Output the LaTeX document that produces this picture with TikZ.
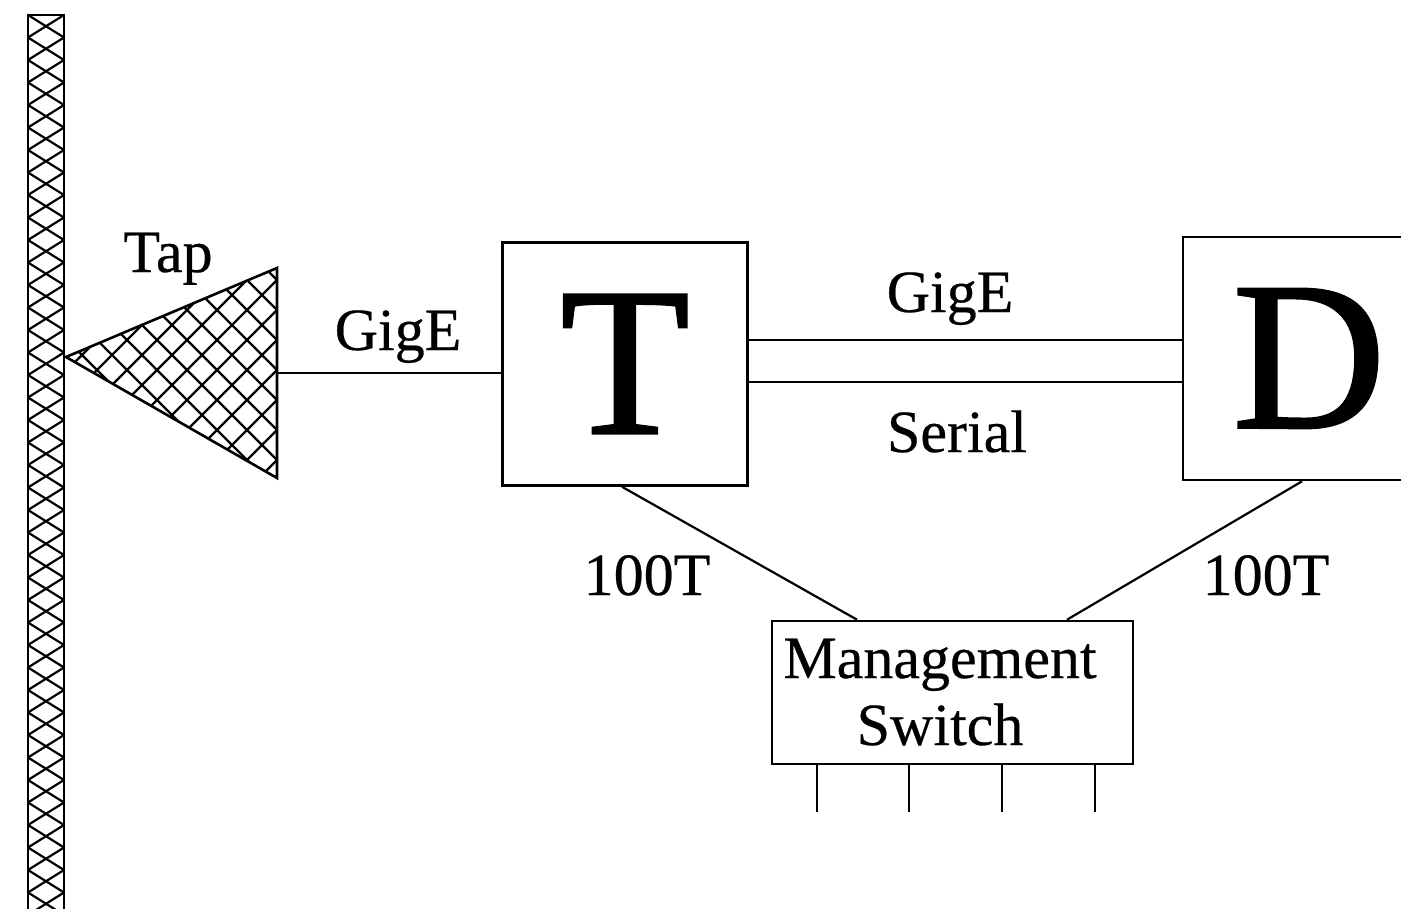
\documentclass[tikz,border=0pt]{standalone}
\usepackage{fontspec}
\setmainfont[FakeBold=0.4]{Liberation Serif}
\newfontfamily\bigfont[FakeBold=1.2]{Liberation Serif}
\begin{document}
\begin{tikzpicture}[x=0.5pt,y=-0.5pt,
  box/.style={draw, line width=1.3pt, inner sep=0pt},
  conn/.style={line width=1.1pt},
  hatch/.style={line width=1.1pt},
  lbl/.style={font=\fontsize{30}{34}\selectfont, inner sep=0pt, anchor=base},
  big/.style={font=\bigfont\fontsize{106}{110}\selectfont}]
\clip (0,0) rectangle (1401,909);
% wall
\draw[line width=1.3pt] (28,930) -- (28,15) -- (64,15) -- (64,930);
\foreach \k in {0,...,40} {
  \draw[hatch] (28,{15+\k*22.5}) -- (64,{15+(\k+1)*22.5});
  \draw[hatch] (28,{15+(\k+1)*22.5}) -- (64,{15+\k*22.5});
}
% tap triangle
\coordinate (apex) at (66,357);
\coordinate (tr) at (277,268);
\coordinate (br) at (277,478);
\begin{scope}
  \clip (apex) -- (tr) -- (br) -- cycle;
  \foreach \c in {-483,-453,...,57} { \draw[hatch] (40,{40-\c}) -- (300,{300-\c}); }
  \foreach \c in {257,287,...,857} { \draw[hatch] (40,{\c-40}) -- (300,{\c-300}); }
\end{scope}
\draw[line width=1.3pt] (apex) -- (tr) -- (br) -- cycle;
\node[lbl] (tap) at (168,272) {Tap};
\coordinate (tapout) at (277,373);
% boxes
\node[box, big, minimum width=122.5pt, minimum height=121.5pt] (T) at (625,364) {T};
\node[box, big, minimum width=126pt, minimum height=121.5pt] (D) at (1309,358.5) {D};
\node[box, minimum width=180.5pt, minimum height=71.5pt] (sw) at (952.5,692.5) {};
\node[lbl] (swt1) at (940,678) {Management};
\node[lbl] (swt2) at (940,745) {Switch};
% connectors
\draw[conn] (tapout) -- (T.west |- tapout);
\node[lbl] (g1) at (398,350) {GigE};
\draw[conn] (T.east |- 0,340) -- (D.west |- 0,340);
\draw[conn] (T.east |- 0,382) -- (D.west |- 0,382);
\node[lbl] (g2) at (950,312) {GigE};
\node[lbl] (ser) at (957,452) {Serial};
\draw[conn] (T.south -| 622,0) -- (sw.north -| 857,0);
\draw[conn] (D.south -| 1302,0) -- (sw.north -| 1067,0);
\node[lbl] (h1) at (647,595) {100T};
\node[lbl] (h2) at (1266,595) {100T};
\foreach \x in {817,909,1002,1095} { \draw[conn] (sw.south -| \x,0) -- (\x,812); }
\end{tikzpicture}
\end{document}
